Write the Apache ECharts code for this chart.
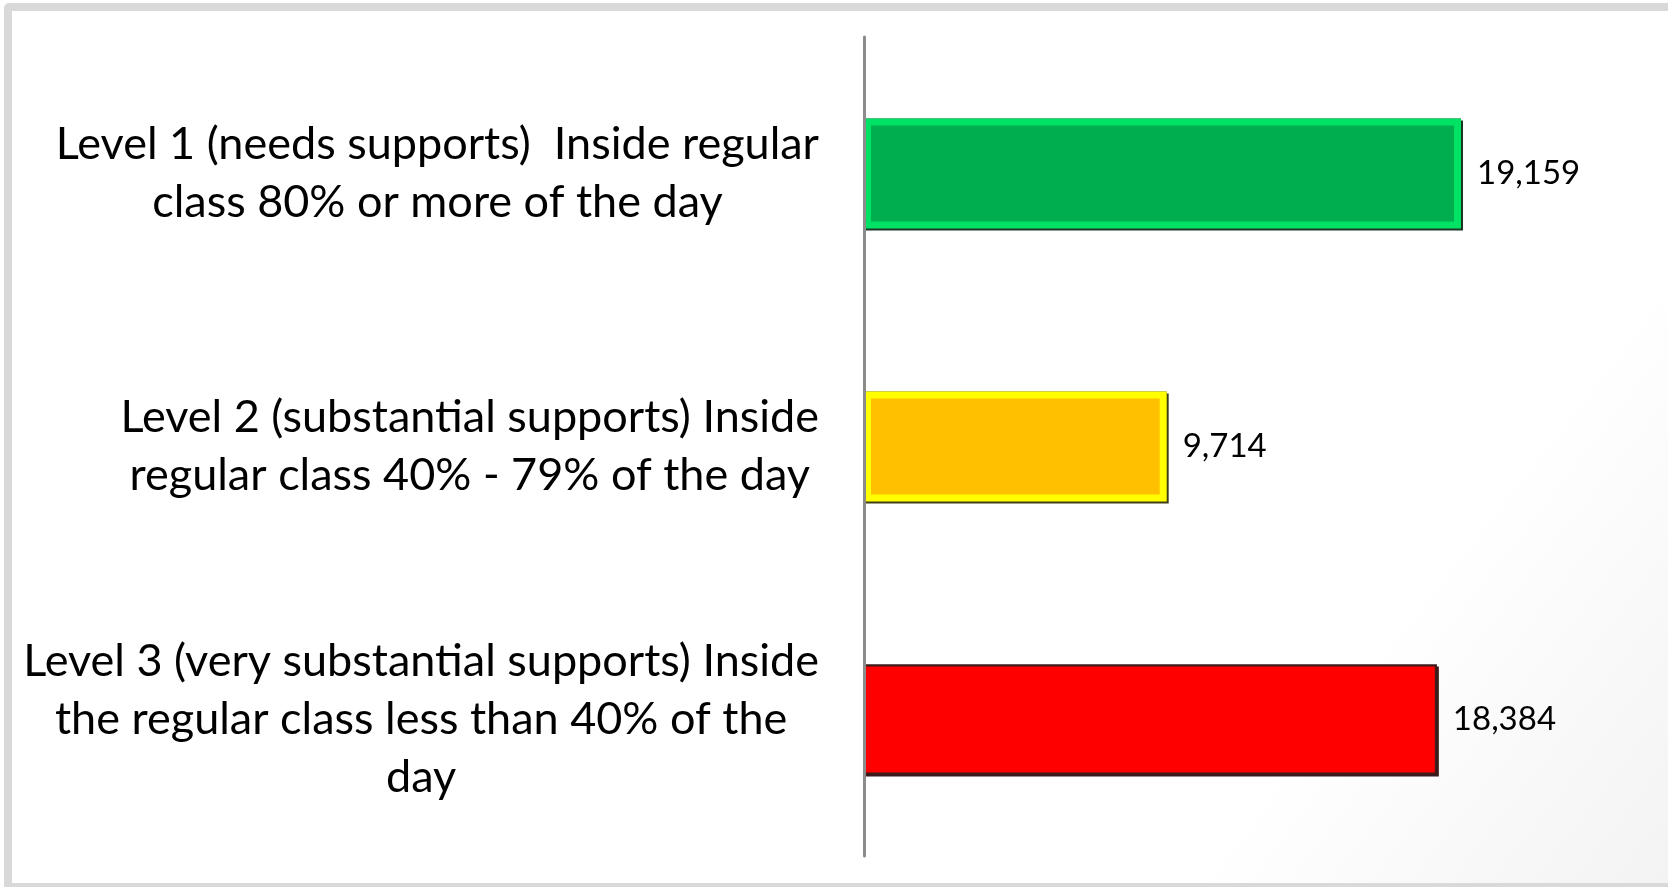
<!DOCTYPE html>
<html>
<head>
<meta charset="utf-8">
<title>Levels of support</title>
<script src="https://cdn.jsdelivr.net/npm/echarts@6/dist/echarts.min.js"></script>
<style>
  html, body { margin: 0; padding: 0; width: 1668px; height: 887px; overflow: hidden; background: #fff; }
  /* grey slide frame behind the chart */
  #frame {
    position: absolute; left: 4px; top: 3px; width: 1700px; height: 872px;
    border: 8px solid #d9d9d9; border-radius: 5px;
    background: linear-gradient(128deg, #fff 78%, #f2f2f2 100%);
  }
  #chart { position: absolute; left: 0; top: 0; width: 1668px; height: 887px; }
</style>
</head>
<body>
<div id="frame"></div>
<div id="chart"></div>
<script>
const categories = [
  'Level 1 (needs supports)  Inside regular\nclass 80% or more of the day',
  'Level 2 (substantial supports) Inside\nregular class 40% - 79% of the day',
  'Level 3 (very substantial supports) Inside\nthe regular class less than 40% of the\nday'
]
const values = [19159, 9714, 18384]

// fill / bevel / edge colours for each bar
const fills = ['#00AD4F', '#FFC000', '#FF0000']
const bevels = ['#00E264', '#FFFF00', '#3c1c1c']
const bevelWidths = [7, 7, 2]
const edges = ['#1c3626', '#3e3e18', '#3a1a1a']

const fontFamily = 'Lato, "Open Sans", sans-serif'

const mychart = echarts.init(document.getElementById('chart'))

const option = {
  backgroundColor: 'transparent',
  animation: false,
  grid: {
    left: 864,
    right: 25,
    top: 37,
    bottom: 31,
    containLabel: false
  },
  xAxis: {
    type: 'value',
    min: 0,
    max: 25000,
    show: false
  },
  yAxis: {
    type: 'category',
    inverse: true,
    data: categories,
    z: 3, // keep the axis line above the bars
    axisLine: {
      show: true,
      lineStyle: { color: '#8c8c8c', width: 3 }
    },
    axisTick: { show: false },
    splitLine: { show: false },
    axisLabel: {
      margin: 45,
      align: 'right',
      color: '#000',
      fontFamily: fontFamily,
      fontSize: 45,
      lineHeight: 58,
      // each line centred inside the right-aligned block
      formatter: function (val) {
        return val.split('\n').map((s) => '{c|' + s + '}').join('\n')
      },
      rich: {
        c: {
          align: 'center',
          color: '#000',
          fontFamily: fontFamily,
          fontSize: 45,
          lineHeight: 58
        }
      }
    }
  },
  series: [
    {
      // dark shadow edge (right / bottom) behind each bar
      type: 'bar',
      barWidth: 110,
      silent: true,
      data: values.map((v, i) => ({
        value: v,
        itemStyle: {
          color: edges[i],
          shadowColor: edges[i],
          shadowBlur: 0,
          shadowOffsetX: 2,
          shadowOffsetY: 2
        }
      }))
    },
    {
      type: 'bar',
      barWidth: 110,
      barGap: '-100%',
      data: values.map((v, i) => ({
        value: v,
        itemStyle: {
          color: fills[i],
          borderColor: bevels[i],
          borderWidth: bevelWidths[i]
        }
      })),
      label: {
        show: true,
        position: 'right',
        distance: 16,
        color: '#000',
        fontFamily: fontFamily,
        fontSize: 33,
        formatter: (p) => p.value.toLocaleString('en-US')
      }
    }
  ]
}
mychart.setOption(option)
</script>
</body>
</html>
